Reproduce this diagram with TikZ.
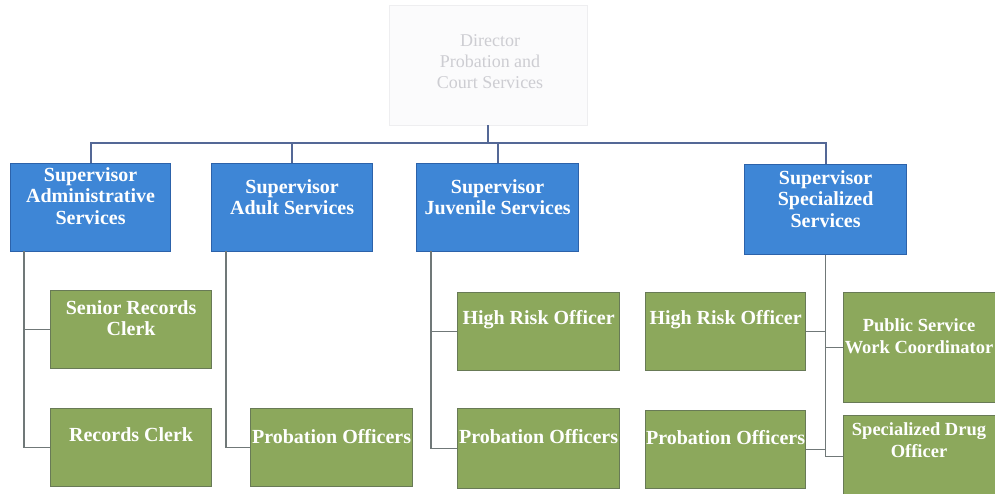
\documentclass[tikz,border=0pt]{standalone}
\usepackage{fontspec}
\setmainfont{Liberation Serif}
\definecolor{supf}{RGB}{62,134,214}
\definecolor{supb}{RGB}{44,98,170}
\definecolor{stf}{RGB}{140,168,92}
\definecolor{stb}{RGB}{104,122,86}
\definecolor{connc}{RGB}{112,120,120}
\definecolor{busc}{RGB}{84,104,150}
\definecolor{topf}{RGB}{251,251,252}
\definecolor{topd}{RGB}{238,238,240}
\definecolor{topt}{RGB}{205,205,210}
\tikzset{
  supbox/.style={draw=supb, line width=1.2pt, fill=supf, inner sep=0pt, anchor=north west},
  staffbox/.style={draw=stb, line width=1.2pt, fill=stf, inner sep=0pt, anchor=north west},
  lbl/.style={text=white, font=\bfseries\fontsize{20}{21.5}\selectfont, align=center, inner sep=0pt},
  conn/.style={draw=connc, line width=1.6pt},
  bus/.style={draw=busc, line width=1.8pt},
}
\begin{document}
\begin{tikzpicture}[x=1pt,y=-1pt]
\useasboundingbox (0,0) rectangle (995,493);
\clip (0,0) rectangle (995,493);
\fill[white] (0,0) rectangle (995,493);
% top box
\node[draw=topd, line width=0.5pt, fill=topf, minimum width=198pt, minimum height=120pt, inner sep=0pt] (topbox) at (488,65) {};
\node[text=topt, font=\fontsize{18}{21}\selectfont, align=center, inner sep=0pt] (toptext) at (490,62) {Director\\Probation and\\Court Services};
% supervisors
\node[supbox, minimum width=160pt, minimum height=88pt] (admin) at (10,163) {};
\node[supbox, minimum width=161pt, minimum height=88pt] (adult) at (211,163) {};
\node[supbox, minimum width=162pt, minimum height=88pt] (juv) at (416,163) {};
\node[supbox, minimum width=162pt, minimum height=90pt] (spec) at (744,164) {};
\node[lbl] (adminT) at ([yshift=-33pt]admin.north) {Supervisor\\Administrative\\Services};
\node[lbl] (adultT) at ([yshift=-34pt]adult.north) {Supervisor\\Adult Services};
\node[lbl] (juvT) at ([yshift=-34pt]juv.north) {Supervisor\\Juvenile Services};
\node[lbl] (specT) at ([yshift=-35pt]spec.north) {Supervisor\\Specialized\\Services};
% staff
\node[staffbox, minimum width=161pt, minimum height=78pt] (senior) at (50,290) {};
\node[staffbox, minimum width=161pt, minimum height=78pt] (rec) at (50,408) {};
\node[staffbox, minimum width=162pt, minimum height=78pt] (adprob) at (250,408) {};
\node[staffbox, minimum width=162pt, minimum height=78pt] (juvhr) at (457,292) {};
\node[staffbox, minimum width=162pt, minimum height=80pt] (juvprob) at (457,408) {};
\node[staffbox, minimum width=160pt, minimum height=78pt] (sphr) at (645,292) {};
\node[staffbox, minimum width=160pt, minimum height=78pt] (spprob) at (645,410) {};
\node[staffbox, minimum width=162pt, minimum height=110pt] (pswc) at (843,292) {};
\node[staffbox, minimum width=162pt, minimum height=82pt] (drug) at (843,415) {};
\node[lbl] (seniorT) at ([yshift=-28pt]senior.north) {Senior Records\\Clerk};
\node[lbl] (recT) at ([yshift=-27pt]rec.north) {Records Clerk};
\node[lbl] (adprobT) at ([yshift=-29pt]adprob.north) {Probation Officers};
\node[lbl] (juvhrT) at ([yshift=-28pt]juvhr.north) {High Risk Officer};
\node[lbl] (juvprobT) at ([yshift=-29pt]juvprob.north) {Probation Officers};
\node[lbl] (sphrT) at ([yshift=-28pt]sphr.north) {High Risk Officer};
\node[lbl] (spprobT) at ([yshift=-28pt]spprob.north) {Probation Officers};
\node[lbl, font=\bfseries\fontsize{18.5}{21.5}\selectfont] (pswcT) at (919,336) {Public Service\\Work Coordinator};
\node[lbl, font=\bfseries\fontsize{18.5}{21.5}\selectfont] (drugT) at (919,440) {Specialized Drug\\Officer};
% bus
\coordinate (busc) at (488,143);
\draw[bus] (topbox.south) -- (busc);
\draw[bus] (admin.north) |- (busc);
\draw[bus] (adult.north) |- (busc);
\draw[bus] (juv.north) |- (busc);
\draw[bus] (spec.north) |- (busc);
% staff connectors
\coordinate (aS) at (24,251);
\coordinate (dS) at (226,251);
\coordinate (jS) at (431,251);
\draw[conn] (aS) |- (rec.west);
\draw[conn] (aS |- senior.west) -- (senior.west);
\draw[conn] (dS) |- (adprob.west);
\draw[conn] (jS) |- (juvprob.west);
\draw[conn] (jS |- juvhr.west) -- (juvhr.west);
\draw[conn] (spec.south) |- (drug.west);
\draw[conn] (spec.south |- pswc.west) -- (pswc.west);
\draw[conn] (sphr.east) -- (sphr.east -| spec.south);
\draw[conn] (spprob.east) -- (spprob.east -| spec.south);
\end{tikzpicture}
\end{document}
